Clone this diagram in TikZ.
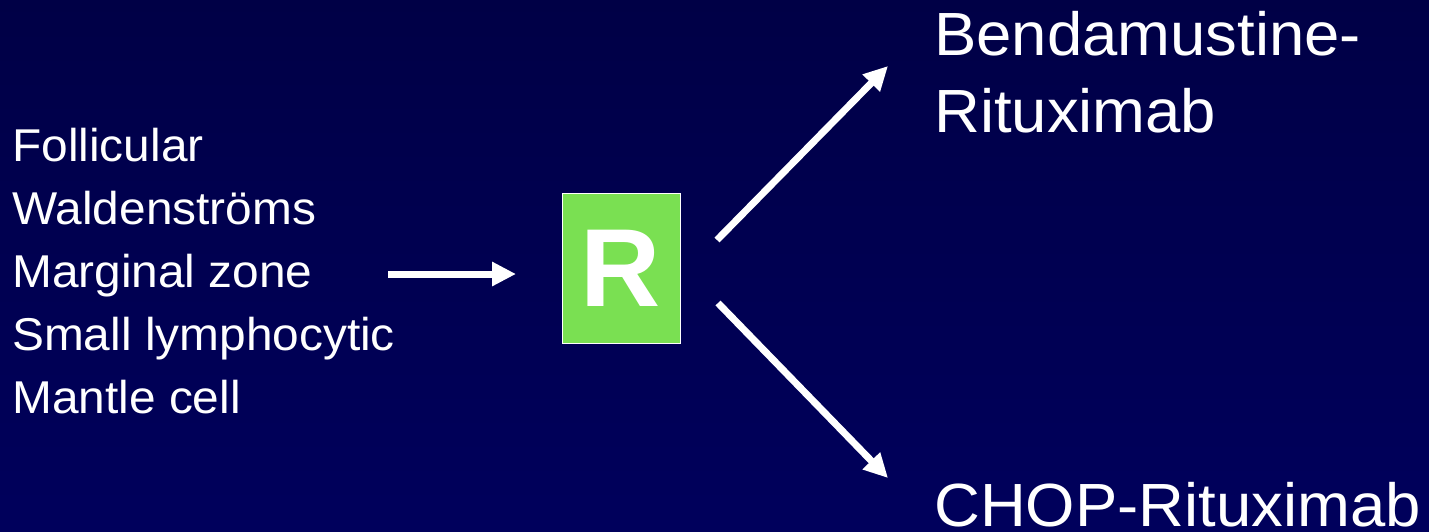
\documentclass[tikz,border=0pt]{standalone}
\usepackage{fontspec}
\setmainfont{Liberation Sans}
\newfontfamily\leftfont[FakeStretch=1.04]{Liberation Sans}
\newfontfamily\rightfont[FakeStretch=1.04]{Liberation Sans}
\usetikzlibrary{arrows.meta}
\definecolor{bgtop}{RGB}{0,0,70}
\definecolor{bgbot}{RGB}{0,0,92}
\definecolor{rgreen}{RGB}{122,224,82}
\tikzset{
  lbl/.style={text=white, anchor=base west, inner sep=0pt, font=\leftfont\fontsize{46}{54}\selectfont},
  rlbl/.style={text=white, anchor=base west, inner sep=0pt, font=\rightfont\fontsize{61}{72}\selectfont},
  arr/.style={draw=white, line width=7pt, -{Triangle[length=24pt,width=23pt]}},
  rbox/.style={draw=white, line width=1pt, fill=rgreen, minimum width=118pt, minimum height=150pt, inner sep=0pt, text=white, font=\bfseries\fontsize{111}{120}\selectfont}
}
\begin{document}
\begin{tikzpicture}[x=1pt,y=-1pt]
\useasboundingbox (0,0) rectangle (1429,531);
\shade[top color=bgtop, bottom color=bgbot] (0,0) rectangle (1429,531);
\node[lbl] (foll) at (12,161) {Follicular};
\node[lbl] (wald) at (12,224) {Waldenströms};
\node[lbl] (marg) at (12,287) {Marginal zone};
\node[lbl] (small) at (12,350) {Small lymphocytic};
\node[lbl] (mant) at (12,413) {Mantle cell};
\node[rbox] (R) at (621,268) {R};
\node[rlbl] (bend) at (934,55) {Bendamustine-};
\node[rlbl] (ritu) at (934,132) {Rituximab};
\node[rlbl] (chop) at (934,526) {CHOP-Rituximab};
\coordinate (inA) at (388,274);
\coordinate (inB) at (516,274);
\coordinate (upS) at (717,240);
\coordinate (upE) at (888,66);
\coordinate (dnS) at (718,303);
\coordinate (dnE) at (888,478);
\draw[arr] (inA) -- (inB);
\draw[arr] (upS) -- (upE);
\draw[arr] (dnS) -- (dnE);
\end{tikzpicture}
\end{document}
